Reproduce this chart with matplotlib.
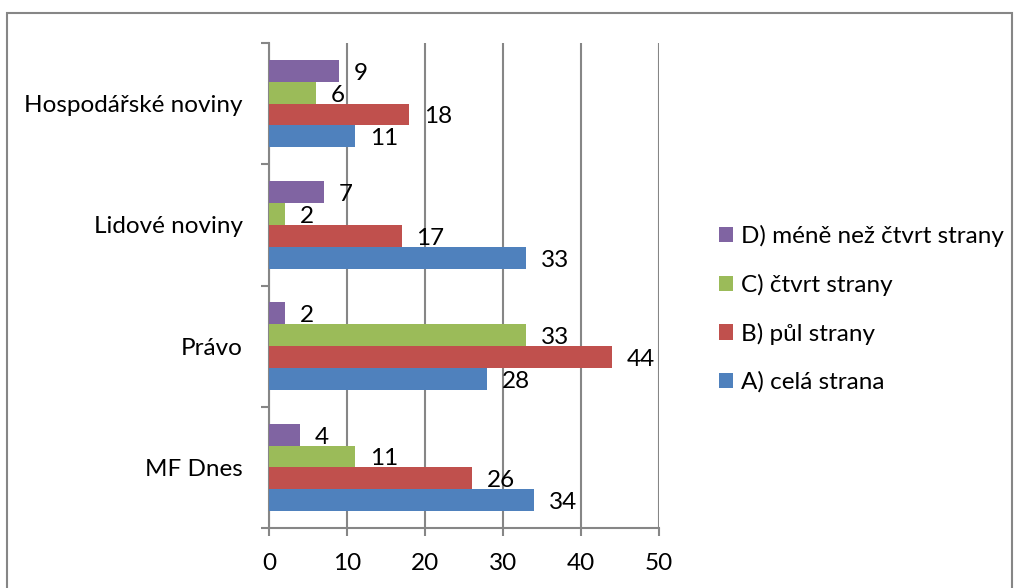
import matplotlib.pyplot as plt
from matplotlib.patches import Rectangle
from matplotlib.ticker import FixedLocator

plt.rcParams['font.family'] = ['Lato', 'DejaVu Sans']

noviny = ["MF Dnes", "Právo", "Lidové noviny", "Hospodářské noviny"]
serie = ["A) celá strana", "B) půl strany", "C) čtvrt strany", "D) méně než čtvrt strany"]
barvy = ["#4F81BD", "#C0504D", "#9BBB59", "#8064A2"]

cela = [34, 28, 33, 11]
pul = [26, 44, 17, 18]
ctvrt = [11, 33, 2, 6]
mene = [4, 2, 7, 9]
hodnoty = [cela, pul, ctvrt, mene]

fs = 17.5

fig = plt.figure(figsize=(10.17, 5.88), dpi=100)
ax = fig.add_axes([269 / 1017, 60 / 588, 390 / 1017, 485 / 588])

h = 0.18
handles = []
for i, vals in enumerate(hodnoty):
    ys = [k + (i - 1.5) * h for k in range(len(noviny))]
    b = ax.barh(ys, vals, height=h, color=barvy[i], label=serie[i], zorder=3)
    handles.append(b)
    for y, v in zip(ys, vals):
        ax.text(v + 1.9, y - 0.02, str(v), va="center", ha="left", fontsize=fs, zorder=4)

ax.set_xlim(0, 50)
ax.set_ylim(-0.5, 3.5)
ax.set_xticks([0, 10, 20, 30, 40, 50])
ax.tick_params(axis="x", length=6, width=1.5, color="#868686", labelsize=fs, pad=12)
ax.grid(axis="x", color="#868686", linewidth=1.5, zorder=0)

ax.yaxis.set_major_locator(FixedLocator([-0.5, 0.5, 1.5, 2.5, 3.5]))
ax.yaxis.set_minor_locator(FixedLocator(range(len(noviny))))
ax.set_yticklabels([], minor=False)
ax.set_yticklabels(noviny, minor=True)
ax.tick_params(axis="y", which="major", length=6, width=1.5, color="#868686")
ax.tick_params(axis="y", which="minor", length=0, labelsize=fs, pad=19)

for s in ["top", "right"]:
    ax.spines[s].set_visible(False)
for s in ["left", "bottom"]:
    ax.spines[s].set_color("#868686")
    ax.spines[s].set_linewidth(1.5)

leg = fig.legend(handles[::-1], serie[::-1], loc="upper left",
                 bbox_to_anchor=(697 / 1017, 1 - 203 / 588), frameon=False,
                 fontsize=fs, handlelength=0.6, handleheight=0.6,
                 handletextpad=0.3, labelspacing=1.1)

fig.patches.append(Rectangle((7 / 1017, -0.01), 1005 / 1017, 1 - 13 / 588 + 0.01,
                             transform=fig.transFigure, fill=False,
                             edgecolor="#868686", linewidth=1.5))

fig.savefig("out.png", dpi=100)
